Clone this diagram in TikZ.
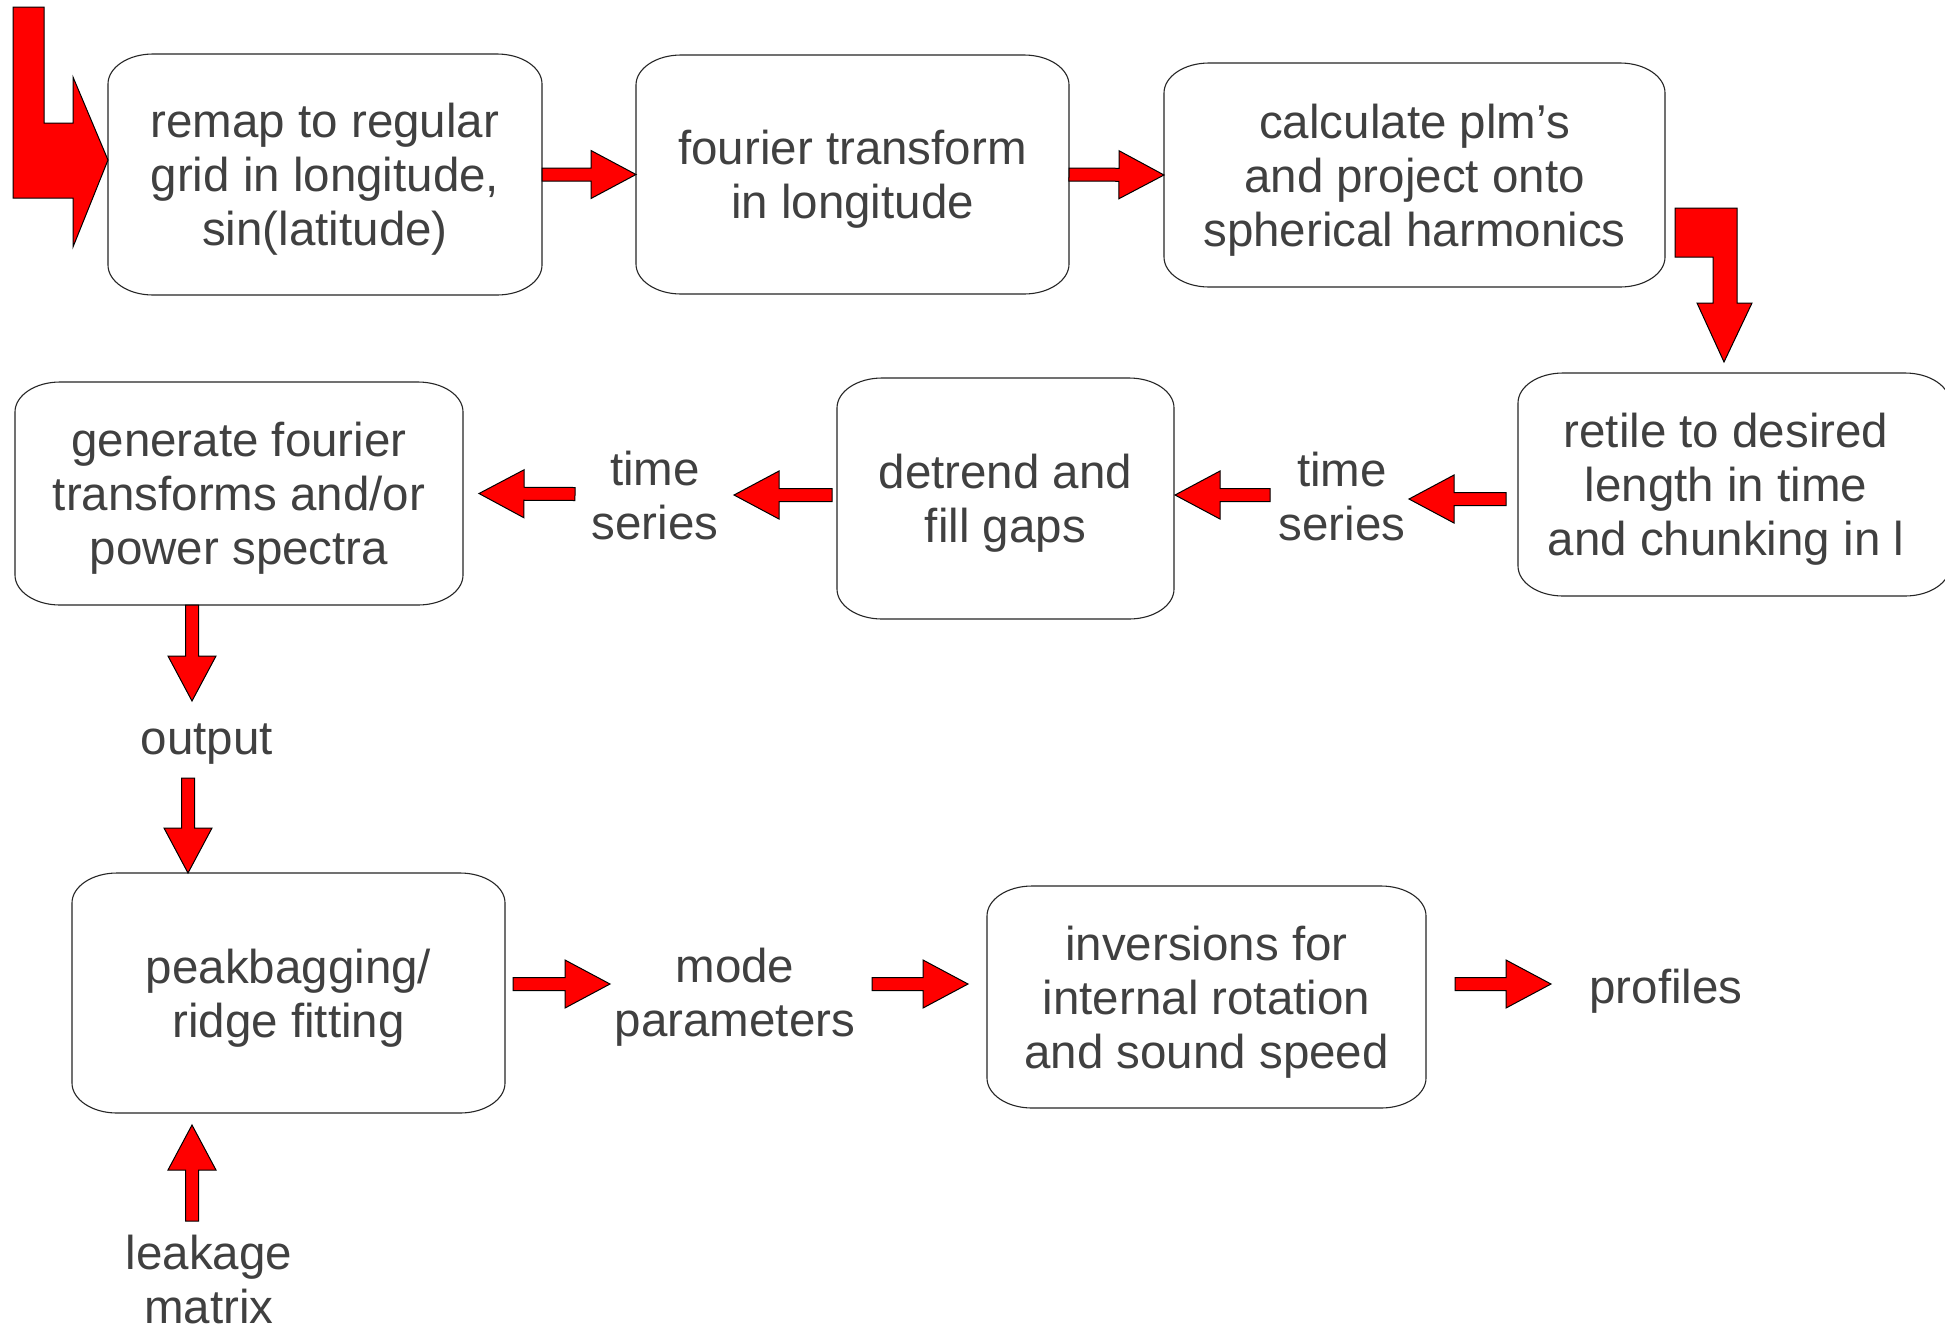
\documentclass[tikz,border=0pt]{standalone}
\usepackage{fontspec}
\setmainfont{Liberation Sans}
\usetikzlibrary{calc}
\definecolor{txt}{RGB}{64,64,64}
\definecolor{arrred}{RGB}{255,0,0}
\tikzset{
  lbl/.style={font=\fontsize{47.5}{54}\selectfont, text=txt, align=center, inner sep=0pt, outer sep=0pt},
  boxshape/.style={inner sep=0pt, outer sep=0pt},
  boxline/.style={draw=black!85, line width=1.1pt},
  blk/.style={fill=arrred, draw=black, line width=1pt, line join=miter}
}
\newcommand\roundbox[1]{%
  \draw[boxline] ([xshift=45pt]#1.north west) -- ([xshift=-45pt]#1.north east)
    arc[start angle=90,end angle=0,x radius=45pt,y radius=30pt]
    -- ([yshift=30pt]#1.south east)
    arc[start angle=0,end angle=-90,x radius=45pt,y radius=30pt]
    -- ([xshift=45pt]#1.south west)
    arc[start angle=270,end angle=180,x radius=45pt,y radius=30pt]
    -- ([yshift=-30pt]#1.north west)
    arc[start angle=180,end angle=90,x radius=45pt,y radius=30pt] -- cycle;}
\newcommand\blkarrow[2]{%
  \draw[blk] let \p1=#1, \p2=#2, \n1={atan2(\y2-\y1,\x2-\x1)}, \n2={veclen(\x2-\x1,\y2-\y1)} in
    [shift={(\p1)}, rotate=\n1] (0,-6.5) -- (\n2-45,-6.5) -- (\n2-45,-24) -- (\n2,0)
    -- (\n2-45,24) -- (\n2-45,6.5) -- (0,6.5) -- cycle;}
\begin{document}
\begin{tikzpicture}[x=1pt,y=1pt]
\path[fill=white,use as bounding box] (0,0) rectangle (1945,-1326);

% boxes (shapes)
\node[boxshape, minimum width=434pt, minimum height=241pt] (b1) at (325,-174.5) {};
\node[boxshape, minimum width=433pt, minimum height=239pt] (b2) at (852.5,-174.5) {};
\node[boxshape, minimum width=501pt, minimum height=224pt] (b3) at (1414.5,-175) {};
\node[boxshape, minimum width=432pt, minimum height=223pt] (b4) at (1734,-484.5) {};
\node[boxshape, minimum width=337pt, minimum height=241pt] (b5) at (1005.5,-498.5) {};
\node[boxshape, minimum width=448pt, minimum height=223pt] (b6) at (239,-493.5) {};
\node[boxshape, minimum width=433pt, minimum height=240pt] (b7) at (288.5,-993) {};
\node[boxshape, minimum width=439pt, minimum height=222pt] (b8) at (1206.5,-997) {};
\foreach \b in {b1,b2,b3,b4,b5,b6,b7,b8} {\roundbox{\b}}

% box texts
\node[lbl] (t1) at ([yshift=-5pt]b1.center) {remap to regular\\grid in longitude,\\sin(latitude)};
\node[lbl] (t2) at ([yshift=-5pt]b2.center) {fourier transform\\in longitude};
\node[lbl] (t3) at ([yshift=-5pt]b3.center) {calculate plm’s\\and project onto\\spherical harmonics};
\node[lbl] (t4) at ([shift={(-8pt,-5pt)}]b4.center) {retile to desired\\length in time\\and chunking in l};
\node[lbl] (t5) at ([yshift=-5pt]b5.center) {detrend and\\fill gaps};
\node[lbl] (t6) at ([yshift=-5pt]b6.center) {generate fourier\\transforms and/or\\power spectra};
\node[lbl] (t7) at ([yshift=-5pt]b7.center) {peakbagging/\\ridge fitting};
\node[lbl] (t8) at ([yshift=-5pt]b8.center) {inversions for\\internal rotation\\and sound speed};

% free labels
\node[lbl] (ts1) at (655,-496) {time\\series};
\node[lbl] (ts2) at (1342,-497) {time\\series};
\node[lbl] (out) at (207,-744) {output};
\node[lbl] (leak) at (209,-1279) {leakage\\matrix};
\node[lbl] (mode) at (735,-997) {mode\\parameters};
\node[lbl] (prof) at (1666,-991) {profiles};

% input bent arrow
\draw[blk] (13,-7) -- (44,-7) -- (44,-123) -- (73,-123) -- (73,-77) -- ([yshift=14.5pt]b1.west)
  -- (73,-247) -- (73,-198) -- (13,-198) -- cycle;
% bent arrow from b3 to b4
\draw[blk] (1675,-208) -- (1737,-208) -- (1737,-303) -- (1752,-303) -- ([shift={(-10,11)}]b4.north)
  -- (1697,-303) -- (1713,-303) -- (1713,-257) -- (1675,-257) -- cycle;

% straight block arrows
\blkarrow{(b1.east)}{(b2.west)}
\blkarrow{(b2.east)}{(b3.west)}
\blkarrow{([shift={(-12,-14.5)}]b4.west)}{([shift={(67,-2)}]ts2.center)}
\blkarrow{([shift={(-72,2)}]ts2.center)}{([shift={(1,3.5)}]b5.east)}
\blkarrow{([shift={(-5,3.5)}]b5.west)}{([shift={(79,1)}]ts1.center)}
\blkarrow{([shift={(-80,2)}]ts1.center)}{([xshift=16]b6.east)}
\blkarrow{([xshift=-47]b6.south)}{([shift={(-15,43)}]out.center)}
\blkarrow{([shift={(-19,-34)}]out.center)}{([xshift=-100.5]b7.north)}
\blkarrow{([shift={(-17,58)}]leak.center)}{([shift={(-96.5,-12)}]b7.south)}
\blkarrow{([shift={(8,9)}]b7.east)}{([shift={(-125,13)}]mode.center)}
\blkarrow{([shift={(137,13)}]mode.center)}{([shift={(-19,13)}]b8.west)}
\blkarrow{([shift={(29,13)}]b8.east)}{([shift={(-115,7)}]prof.center)}
\end{tikzpicture}
\end{document}
